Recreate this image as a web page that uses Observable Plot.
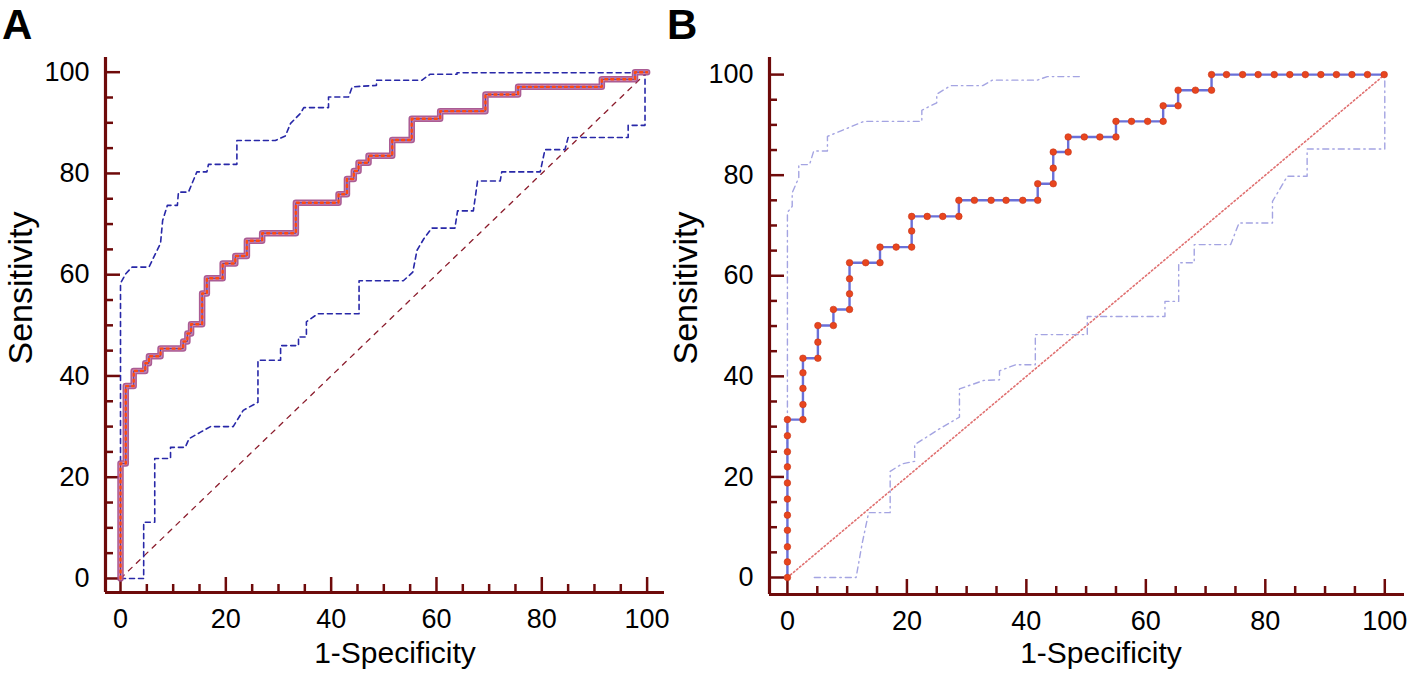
<!DOCTYPE html>
<html><head><meta charset="utf-8">
<script src="https://cdn.jsdelivr.net/npm/d3@7"></script>
<script src="https://cdn.jsdelivr.net/npm/@observablehq/plot@0.6"></script>
<style>
html,body{margin:0;padding:0;background:#fff;overflow:hidden}
#wrap{position:relative;width:1418px;height:674px;font-family:"Liberation Sans",Arial,sans-serif;color:#000}
.lbl{position:absolute;white-space:nowrap}
</style></head><body><div id="wrap"></div>
<script>
// ---------- data ----------
const majorTicks = [0, 20, 40, 60, 80, 100];
const minorTicks = [5, 10, 15, 25, 30, 35, 45, 50, 55, 65, 70, 75, 85, 90, 95];
const diagX = [0, 100];
const diagY = [0, 100];

// Panel A: ROC curve
const rocAx = [0,0,1,1,2.5,2.5,4.7,4.7,5.4,5.4,7.6,7.6,11.9,11.9,12.7,12.7,13.4,13.4,15.5,15.5,16.4,16.4,19.4,19.4,21.8,21.8,24.0,24.0,26.9,26.9,33.3,33.3,41.4,41.4,43.0,43.0,44.3,44.3,45.2,45.2,47.1,47.1,51.6,51.6,55.3,55.3,60.7,60.7,69.3,69.3,75.5,75.5,91.4,91.4,97.7,97.7,100];
const rocAy = [0,22.7,22.7,38,38,41,41,42.5,42.5,43.9,43.9,45.4,45.4,46.8,46.8,48.4,48.4,50.2,50.2,56.3,56.3,59.3,59.3,62.2,62.2,63.7,63.7,66.7,66.7,68.2,68.2,74.2,74.2,75.9,75.9,78.9,78.9,80.5,80.5,82.1,82.1,83.5,83.5,86.6,86.6,90.8,90.8,92.3,92.3,95.6,95.6,97.1,97.1,98.6,98.6,100,100];
// Panel A: upper confidence bound
const upAx = [0,0,1,2.2,5.4,7.6,8,8.9,10.8,11,12.9,14.5,16.4,16.7,22.1,22.1,29.4,31.3,32.3,34.2,34.8,39.5,39.5,43.3,44,48.6,48.6,57.2,58.8,63.9,63.9,100];
const upAy = [0,58.3,60.2,61.5,61.5,66.2,70.7,73.7,73.7,76.3,76.3,80.3,80.3,81.8,81.8,86.5,86.5,87.4,89.9,91.9,93.0,93.0,95.1,95.1,97.1,97.4,98.4,98.4,99.6,99.6,99.9,99.9];
// Panel A: lower confidence bound
const loAx = [0,4.4,4.4,6.5,6.5,9.5,9.5,12.3,13,15.2,17.1,21.4,23.3,26.1,26.1,30.4,30.4,33.8,33.8,35.3,35.3,37.5,45.3,45.3,53.7,55.5,56.3,57.6,59.1,63.5,64,67,67.8,72.1,72.4,79.7,80.6,84.4,85,96.4,96.4,99.6,99.6];
const loAy = [0,0,11.1,11.1,23.7,23.7,25.9,25.9,27.6,28.9,30.0,30.0,33.2,34.8,43.1,43.1,46.0,46.0,47.7,47.7,50.7,52.3,52.3,58.8,58.8,60.5,64.8,67.1,69.2,69.2,72.6,72.6,78.5,78.5,80.3,80.3,84.7,84.7,87.1,87.1,89.5,89.5,100];

// Panel B: ROC curve (operating points)
const rocBx = [0,0,0,0,0,0,0,0,0,0,0,2.6,2.6,2.6,2.6,2.6,5.1,5.1,5.1,7.7,7.7,10.4,10.4,10.4,10.4,13.1,15.5,15.5,18.2,20.8,20.8,20.8,23.4,26.0,28.7,28.7,31.3,34.1,36.6,39.4,41.9,41.9,44.5,44.5,44.5,47.0,47.0,49.7,52.3,55.0,55.0,57.6,60.3,62.9,62.9,65.4,65.4,68.3,71.0,71.0,73.5,76.2,78.8,81.5,84.1,86.7,89.3,91.9,94.5,97.1,99.9];
const rocBy = [0,3.1,6.1,9.4,12.4,15.6,18.8,22.0,25.0,28.2,31.4,31.4,34.4,37.6,40.7,43.6,43.6,46.8,50.1,50.1,53.3,53.3,56.4,59.4,62.6,62.6,62.6,65.7,65.7,65.7,68.9,71.8,71.8,71.8,71.8,75.0,75.0,75.0,75.0,75.0,75.0,78.3,78.3,81.4,84.6,84.6,87.6,87.6,87.6,87.6,90.7,90.7,90.7,90.7,93.8,93.8,96.9,96.9,96.9,100,100,100,100,100,100,100,100,100,100,100,100];
// Panel B: upper confidence bound
const upBx = [0,0,0.8,0.8,1.9,1.9,3.7,4.4,6.7,6.7,12.8,22.5,22.5,25,25,27.3,32.7,34.3,41.8,43.5,49];
const upBy = [0,72.6,73.8,76.5,79.5,82.1,82.1,84.8,84.8,87.7,90.7,90.7,92.9,94.4,96.1,97.8,97.8,98.9,98.9,99.6,99.6];
// Panel B: lower confidence bound
const loBx = [4.5,11.5,12.5,13.6,17.2,17.2,19.2,21.3,21.3,25.1,28.8,28.8,32.9,35.5,35.5,38.2,41.5,41.5,50.2,50.2,63.2,63.2,65.5,65.5,68.1,68.1,74.2,75.6,81.2,81.2,83.7,87,87,100,100];
const loBy = [0,0,6.7,12.9,12.9,21.1,22.6,23.1,26.4,29.3,31.9,37.5,39.2,39.3,41.1,42.3,42.3,48.3,48.3,51.9,51.9,54.9,54.9,62.6,62.6,66.2,66.2,70.5,70.5,74.8,79.8,79.8,85.2,85.2,100];

// ---------- helpers ----------
const rows = (xs, ys) => xs.map((x, i) => ({x, y: ys[i]}));
const axisColor = "#6e0a0a";
const wrap = document.getElementById("wrap");

function frameMarks(xDomain, yDomain, plotW, plotH) {
  return [
    Plot.tickX(majorTicks, {x: d => d, stroke: axisColor, strokeWidth: 2.5, insetTop: plotH - 15}),
    Plot.tickX(minorTicks, {x: d => d, stroke: axisColor, strokeWidth: 2.5, insetTop: plotH - 8}),
    Plot.tickY(majorTicks, {y: d => d, stroke: axisColor, strokeWidth: 2.5, insetRight: plotW - 15}),
    Plot.tickY(minorTicks, {y: d => d, stroke: axisColor, strokeWidth: 2.5, insetRight: plotW - 8}),
    Plot.ruleX([xDomain[0]], {stroke: axisColor, strokeWidth: 3.2}),
    Plot.ruleY([yDomain[0]], {stroke: axisColor, strokeWidth: 3.2}),
    Plot.axisX(majorTicks, {tickSize: 0, tickPadding: 16, fontSize: 27, label: null, fill: "#000"}),
    Plot.axisY(majorTicks, {tickSize: 0, tickPadding: 16, fontSize: 27, label: null, fill: "#000"})
  ];
}

function makePanel(cfg, marks) {
  const plotW = cfg.width - cfg.marginLeft - cfg.marginRight;
  const plotH = cfg.height - cfg.marginTop - cfg.marginBottom;
  const svg = Plot.plot({
    width: cfg.width, height: cfg.height,
    marginLeft: cfg.marginLeft, marginRight: cfg.marginRight,
    marginTop: cfg.marginTop, marginBottom: cfg.marginBottom,
    x: {domain: cfg.xDomain, axis: null},
    y: {domain: cfg.yDomain, axis: null},
    style: {background: "transparent", fontFamily: "'Liberation Sans', Arial, sans-serif", color: "#000",
            position: "absolute", left: cfg.left + "px", top: "0px", overflow: "visible"},
    marks: [...frameMarks(cfg.xDomain, cfg.yDomain, plotW, plotH), ...marks]
  });
  wrap.appendChild(svg);
}

// ---------- Panel A ----------
makePanel({left: 0, width: 680, height: 674, marginLeft: 105, marginRight: 16, marginTop: 57, marginBottom: 82,
           xDomain: [-2.85, 103.3], yDomain: [-2.77, 102.9]}, [
  Plot.line(rows(diagX, diagY), {x: "x", y: "y", stroke: "#8b1c2c", strokeWidth: 1.3, strokeDasharray: "5,6"}),
  Plot.line(rows(upAx, upAy), {x: "x", y: "y", stroke: "#2828a8", strokeWidth: 1.6, strokeDasharray: "5,4"}),
  Plot.line(rows(loAx, loAy), {x: "x", y: "y", stroke: "#2828a8", strokeWidth: 1.6, strokeDasharray: "5,4"}),
  Plot.line(rows(rocAx, rocAy), {x: "x", y: "y", stroke: "#a24a88", strokeOpacity: 0.9, strokeWidth: 6.5}),
  Plot.line(rows(rocAx, rocAy), {x: "x", y: "y", stroke: "#c98ab4", strokeWidth: 3.5}),
  Plot.line(rows(rocAx, rocAy), {x: "x", y: "y", stroke: "#3a3ac0", strokeWidth: 1}),
  Plot.line(rows(rocAx, rocAy), {x: "x", y: "y", stroke: "#ff4a10", strokeWidth: 2.4, strokeDasharray: "2,4"})
]);

// ---------- Panel B ----------
makePanel({left: 640, width: 778, height: 674, marginLeft: 129, marginRight: 14, marginTop: 57, marginBottom: 80,
           xDomain: [-3.0, 103.3], yDomain: [-3.38, 103.4]}, [
  Plot.line(rows(diagX, diagY), {x: "x", y: "y", stroke: "#e07070", strokeWidth: 1.6, strokeDasharray: "1.5,2.5"}),
  Plot.line(rows(upBx, upBy), {x: "x", y: "y", stroke: "#a4a4e2", strokeWidth: 1.4, strokeDasharray: "6,4,1.5,4"}),
  Plot.line(rows(loBx, loBy), {x: "x", y: "y", stroke: "#a4a4e2", strokeWidth: 1.4, strokeDasharray: "6,4,1.5,4"}),
  Plot.line(rows(rocBx, rocBy), {x: "x", y: "y", stroke: "#6a70d8", strokeWidth: 2.4}),
  Plot.dot(rows(rocBx, rocBy), {x: "x", y: "y", r: 3.3, fill: "#e8461e", stroke: "#c8341a", strokeWidth: 0.6})
]);

// ---------- text labels ----------
function label(text, css) {
  const d = document.createElement("div");
  d.className = "lbl";
  d.textContent = text;
  Object.assign(d.style, css);
  wrap.appendChild(d);
}
label("A", {left: "2px", top: "1px", fontSize: "42px", lineHeight: "47px", fontWeight: "bold"});
label("B", {left: "667px", top: "1px", fontSize: "42px", lineHeight: "47px", fontWeight: "bold"});
label("Sensitivity", {left: "20px", top: "288px", fontSize: "34px", lineHeight: "38px", transform: "translate(-50%,-50%) rotate(-90deg)"});
label("Sensitivity", {left: "685px", top: "288px", fontSize: "34px", lineHeight: "38px", transform: "translate(-50%,-50%) rotate(-90deg)"});
label("1-Specificity", {left: "395px", top: "638px", fontSize: "30px", lineHeight: "30px", transform: "translateX(-50%)"});
label("1-Specificity", {left: "1101px", top: "638px", fontSize: "30px", lineHeight: "30px", transform: "translateX(-50%)"});
</script></body></html>
